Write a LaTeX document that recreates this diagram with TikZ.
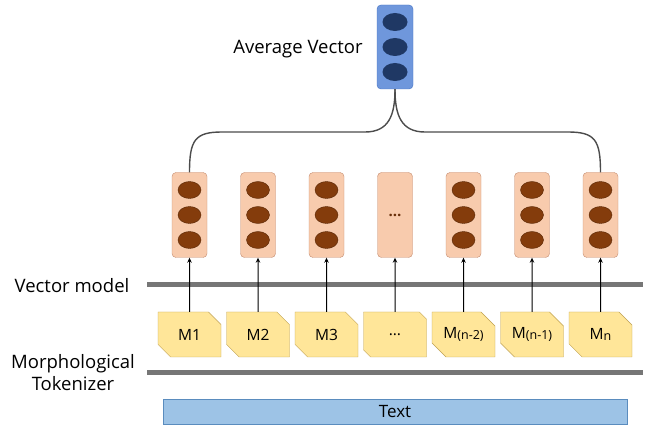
\documentclass[tikz,border=0pt]{standalone}
\usepackage{fontspec}
\setmainfont{Open Sans}
\usetikzlibrary{shapes.misc,shapes.geometric,arrows.meta}
\definecolor{vecfill}{HTML}{F8CBAD}
\definecolor{vecline}{RGB}{196,140,112}
\definecolor{dotfill}{HTML}{843C0C}
\definecolor{avgfill}{HTML}{6F97DC}
\definecolor{avgline}{HTML}{4472C4}
\definecolor{avgdotfill}{HTML}{1F3864}
\definecolor{tokfill}{HTML}{FFE699}
\definecolor{tokline}{RGB}{190,160,80}
\definecolor{barfill}{HTML}{9DC3E6}
\definecolor{barline}{RGB}{90,140,190}
\definecolor{layergray}{RGB}{118,118,118}
\newcommand\smallsub[1]{\raisebox{-1pt}{\fontsize{12.5}{12.5}\selectfont#1}}
\begin{document}
\begin{tikzpicture}[x=1pt,y=-1pt,
  lab/.style={font=\fontsize{18.5}{22}\selectfont,align=center,inner sep=0pt},
  vecbox/.style={draw=vecline,fill=vecfill,rounded corners=4pt,minimum width=35pt,minimum height=85pt,inner sep=0pt},
  dot/.style={ellipse,fill=dotfill,draw=dotfill!70!black,minimum width=23pt,minimum height=17pt,inner sep=0pt},
  avgbox/.style={draw=avgline,fill=avgfill,rounded corners=4pt,minimum width=36pt,minimum height=84pt,inner sep=0pt},
  avgdot/.style={ellipse,fill=avgdotfill,minimum width=25pt,minimum height=18pt,inner sep=0pt},
  token/.style={chamfered rectangle,chamfered rectangle corners={north east,south west},
    chamfered rectangle xsep=7pt,chamfered rectangle ysep=7pt,draw=tokline,fill=tokfill,
    minimum width=63pt,minimum height=45pt,inner sep=0pt,font=\fontsize{15.5}{17}\selectfont},
  layer/.style={draw=layergray,line width=5pt},
  arr/.style={-{Stealth[length=5pt,width=4.5pt]},line width=1pt},
  brace/.style={draw=black!70,line width=1.4pt}]
\useasboundingbox (0,0) rectangle (654,430);
% average vector
\node[avgbox] (avg) at (395,47) {};
\foreach \k/\dy in {1/25,2/0,3/-25}
  \node[avgdot] (a\k) at ([yshift=\dy pt]avg.center) {};
\node[lab] (avglab) at (298,49) {Average Vector};
% vectors and morphemes
\foreach \i/\x/\tok in {1/189.5/M1,2/258/M2,3/326.5/M3,4/395/{\ldots},5/463.5/{M\smallsub{(n-2)}},6/532/{M\smallsub{(n-1)}},7/600.5/{M\smallsub{n}}}{
  \node[vecbox] (v\i) at (\x,215) {};
  \node[token] (m\i) at (\x,334.5) {\tok};
}
\foreach \i in {1,2,3,5,6,7}
  \foreach \k/\dy in {1/25,2/0,3/-25}
    \node[dot] (d\i\k) at ([yshift=\dy pt]v\i.center) {};
\node[font=\fontsize{15}{17}\selectfont\bfseries,text=dotfill!80!black] (vdots) at (v4) {\ldots};
% layers
\draw[layer] (147,285) -- (643,285);
\draw[layer] (147,373) -- (643,373);
\node[lab] (vmlab) at (72,286) {Vector model};
\node[lab] (mtlab) at (73,373) {Morphological\\Tokenizer};
\foreach \i in {1,...,7}
  \draw[arr] (m\i) -- (v\i);
% text
\node[draw=barline,fill=barfill,minimum width=464pt,minimum height=25pt,inner sep=0pt,
  font=\fontsize{17}{19}\selectfont] (txt) at (395,411.5) {Text};
% brace
\draw[brace] (v1.north) .. controls (189.5,140) and (195,132) .. (222,132) -- (365,132)
  .. controls (389,132) and (395,115) .. (avg.south);
\draw[brace] (v7.north) .. controls (600.5,140) and (595,132) .. (568,132) -- (425,132)
  .. controls (401,132) and (395,115) .. (avg.south);
\end{tikzpicture}
\end{document}
